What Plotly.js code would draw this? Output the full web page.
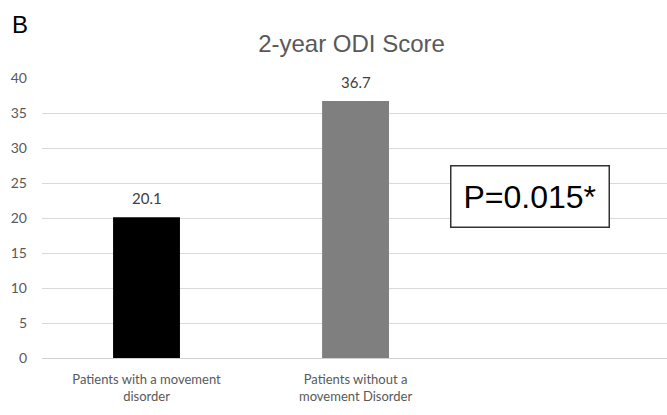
<!DOCTYPE html>
<html><head><meta charset="utf-8">
<script src="https://cdn.plot.ly/plotly-3.0.1.min.js"></script>
<style>html,body{margin:0;padding:0;background:#fff}#chart{width:667px;height:415px}</style>
</head><body><div id="chart"></div>
<script>
const categories = ["Patients with a movement<br>disorder", "Patients without a<br>movement Disorder"];
const values = [20.1, 36.7];
const barColors = ["#000000", "#7f7f7f"];
const yTicks = [0, 5, 10, 15, 20, 25, 30, 35, 40];
const pText = "P=0.015*";
const xIdx = categories.map((c, i) => i);

const trace = {
  type: "bar",
  x: xIdx,
  y: values,
  width: 0.32,
  marker: {color: barColors},
  hoverinfo: "none"
};

const valueLabels = values.map((v, i) => ({
  text: v.toFixed(1), xref: "x", yref: "y", x: xIdx[i], y: v,
  xanchor: "center", yanchor: "bottom", yshift: 8, showarrow: false,
  font: {family: "Lato, 'Liberation Sans', sans-serif", size: 15, color: "#404040"}
}));

const layout = {
  width: 667, height: 415,
  margin: {l: 42, r: 0, t: 78, b: 57},
  paper_bgcolor: "#fff", plot_bgcolor: "#fff",
  showlegend: false,
  title: {text: "2-year ODI Score", x: 0.527, xanchor: "center", y: 0.895, yanchor: "middle",
          font: {family: "'Liberation Sans', Arial, sans-serif", size: 24, color: "#595959"}},
  xaxis: {range: [-0.5, 2.49], tickvals: xIdx, ticktext: categories, showgrid: false,
          zeroline: false, showline: false, ticks: "", ticklabelstandoff: 12,
          tickfont: {family: "Lato, 'Liberation Sans', sans-serif", size: 13, color: "#595959"}},
  yaxis: {range: [0, 40], tickvals: yTicks, showgrid: true, gridcolor: "#d9d9d9", gridwidth: 1,
          zeroline: true, zerolinecolor: "#d0d0d0", zerolinewidth: 1, showline: false, ticks: "",
          ticklabelstandoff: 14,
          tickfont: {family: "Lato, 'Liberation Sans', sans-serif", size: 14, color: "#595959"}},
  annotations: valueLabels.concat([
    {text: "B", xref: "paper", yref: "paper", x: -0.052, y: 1.19, xanchor: "left", yanchor: "middle",
     showarrow: false, font: {family: "'Liberation Sans Narrow', 'Liberation Sans', sans-serif", size: 24, color: "#000"}},
    {text: pText, xref: "x", yref: "y", x: 1.835, y: 23.07, xanchor: "center", yanchor: "middle",
     showarrow: false, bordercolor: "#333", borderwidth: 1.5, borderpad: 12, bgcolor: "#fff",
     font: {family: "'Liberation Sans', Arial, sans-serif", size: 32, color: "#000"}}
  ])
};

Plotly.newPlot("chart", [trace], layout, {displayModeBar: false, staticPlot: true});
</script></body></html>
